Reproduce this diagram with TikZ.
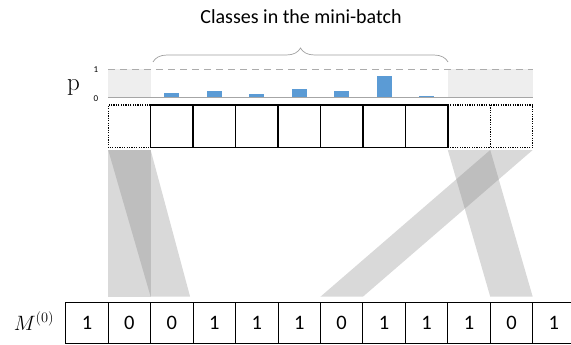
\documentclass[tikz,border=0pt]{standalone}
\usepackage{fontspec}
\newfontfamily\calib{Carlito}
\usetikzlibrary{calc,decorations.pathreplacing}
\definecolor{barblue}{HTML}{5B9BD5}
\definecolor{bandgray}{HTML}{808080}
\tikzset{
  cellbox/.style={draw=black, line width=0.9pt, minimum width=42.45pt, minimum height=41pt,
    inner sep=0pt, outer sep=0pt, anchor=north west, font=\calib\fontsize{20.5}{20.5}\selectfont},
  topcell/.style={minimum width=42.45pt, minimum height=42.3pt, inner sep=0pt, outer sep=0pt, anchor=north west},
  solidcell/.style={topcell, draw=black, line width=1.4pt},
  dotline/.style={black, line width=1.3pt, dash pattern=on 1.2pt off 1.2pt},
  band/.style={fill=bandgray, fill opacity=0.3, draw=none},
  bar/.style={fill=barblue, draw=none},
  hatch/.style={fill=gray!13, draw=none},
}
\begin{document}
\begin{tikzpicture}[x=1pt, y=-1pt]
\useasboundingbox (0,0) rectangle (571,345);

% upper row: ten class slots
\foreach \i in {1,...,10} {
  \node[topcell] (t\i) at ({108.2+(\i-1)*42.45},105) {};
}
% lower row: mask M^(0)
\foreach \v [count=\i] in {1,0,0,1,1,1,0,1,1,1,0,1} {
  \node[cellbox] (b\i) at ({65.75+(\i-1)*42.45},302.3) {\v};
}

% grey bands linking slots to mask entries
\fill[band] ($(t1.south west)+(0,2.7)$) -- ($(t1.south east)+(0,2.7)$)
  -- ($(b2.north east)+(0,-5.6)$) -- ($(b2.north west)+(0,-5.6)$) -- cycle;
\fill[band] ($(t1.south west)+(0,2.7)$) -- ($(t1.south east)+(0,2.7)$)
  -- ($(b3.north east)+(-3,-5.6)$) -- ($(b3.north west)+(0,-5.6)$) -- cycle;
\fill[band] ($(t9.south west)+(0,2.7)$) -- ($(t9.south east)+(0,2.7)$)
  -- ($(b11.north east)+(0,-5.6)$) -- ($(b11.north west)+(0,-5.6)$) -- cycle;
\fill[band] ($(t10.south west)+(0,2.7)$) -- ($(t10.south east)+(0,2.7)$)
  -- ($(b7.north east)+(0,-5.6)$) -- ($(b7.north west)+(0,-5.6)$) -- cycle;

% solid slots for classes in the mini-batch
\foreach \i in {2,...,8} {
  \node[solidcell] at (t\i.north west) {};
}
% dotted slots for the remaining classes
\draw[dotline] (t2.north west) -- (t1.north west) -- (t1.south west) -- (t2.south west);
\draw[dotline] (t8.north east) -- (t10.north east) -- (t10.south east) -- (t8.south east);
\draw[dotline] (t10.north west) -- (t10.south west);

% probability chart
\coordinate (p1L) at ($(t1.north west)+(0,-36)$);
\coordinate (p0L) at ($(t1.north west)+(0,-7.3)$);
\coordinate (p1R) at ($(t10.north east)+(0,-36)$);
\coordinate (p0R) at ($(t10.north east)+(0,-7.3)$);
\fill[hatch] (p1L) rectangle ($(t1.north east)+(0,-7.3)$);
\fill[hatch] ($(t9.north west)+(0,-36)$) rectangle (p0R);
\draw[gray!65, line width=0.9pt, dash pattern=on 7pt off 5pt] (p1L) -- (p1R);
\foreach \i/\h in {2/5, 3/6.4, 4/3.4, 5/9, 6/6.7, 7/21.4, 8/2} {
  \fill[bar] ($(t\i.north)+(-7.5,-7.3)$) rectangle ($(t\i.north)+(7.5,-7.3-\h)$);
}
\draw[gray!70, line width=0.9pt] (p0L) -- (p0R);

\node[font=\calib\fontsize{9}{9}\selectfont] (one) at (96,70) {1};
\node[font=\calib\fontsize{9}{9}\selectfont] (zero) at (96,99) {0};
\node[font=\fontsize{25}{25}\selectfont] (plab) at (73.5,87) {p};

% brace over the mini-batch classes
\coordinate (brL) at (153,62);
\coordinate (brR) at (448,62);
\draw[gray!75, line width=0.7pt, decorate, decoration={brace, amplitude=14pt}] (brL) -- (brR);
\node[font=\calib\fontsize{20}{20}\selectfont] (title) at (301,17) {Classes in the mini-batch};

% mask label
\node[font=\fontsize{20}{20}\selectfont] (mlab) at (34,321) {$M^{(0)}$};
\end{tikzpicture}
\end{document}
